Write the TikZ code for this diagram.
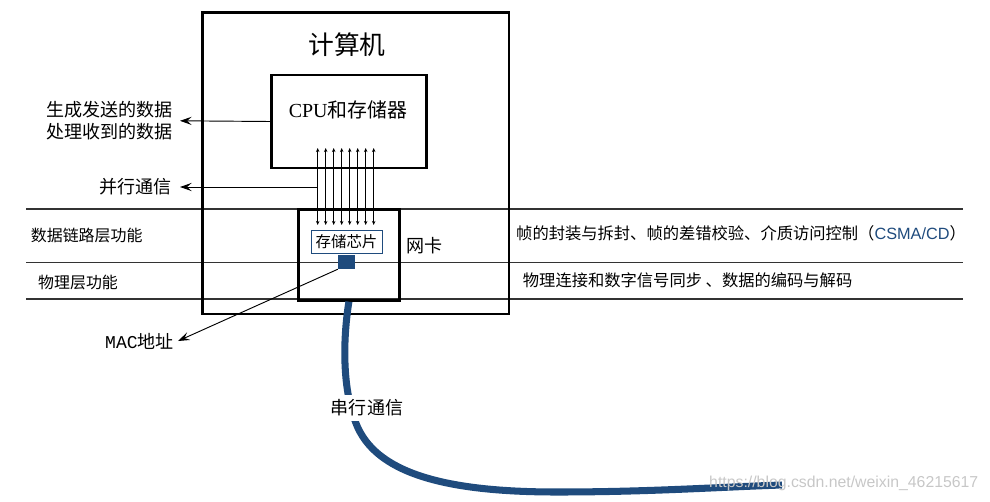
\documentclass[tikz,border=0pt]{standalone}
\usepackage{fontspec}
\setmainfont{Noto Sans CJK SC}
\newfontfamily\cpufont{Liberation Serif}
\newfontfamily\latfont{Liberation Sans}
\newfontfamily\macfont{Liberation Mono}
\usepackage{tikz}
\usetikzlibrary{positioning}
\usetikzlibrary{arrows.meta}

\definecolor{cableblue}{RGB}{31,75,125}

\tikzset{
    box/.style={draw, line width=2.4pt, inner sep=0pt},
    layerline/.style={draw=black!80, line width=1pt},
    bus/.style={line width=0.7pt, {Stealth[length=3.5pt,width=3pt]}-{Stealth[length=3.5pt,width=3pt]}},
    pointer/.style={line width=0.8pt, -{Stealth[length=10pt,width=7pt,inset=4pt]}},
    txt/.style={font=\fontsize{15.4}{18.5}\selectfont, inner sep=0pt},
    small/.style={font=\fontsize{13.6}{16}\selectfont, inner sep=0pt},
    cable/.style={draw=cableblue, line width=6pt},
}

\begin{document}
\begin{tikzpicture}[x=0.03cm, y=-0.03cm]
    \useasboundingbox (0,0) rectangle (990,501);

    % layer lines
    \coordinate (l1w) at (26,209);
    \coordinate (l1e) at (963,209);
    \coordinate (l2w) at (26,262.5);
    \coordinate (l2e) at (963,262.5);
    \coordinate (l3w) at (26,299);
    \coordinate (l3e) at (963,299);
    \draw[layerline] (l1w) -- (l1e);
    \draw[layerline] (l2w) -- (l2e);
    \draw[layerline] (l3w) -- (l3e);

    % computer
    \node[box, minimum width=9.195cm, minimum height=9.045cm] (pc) at (355.75,163.25) {};
    \node[font=\fontsize{22}{26}\selectfont, inner sep=0pt] (title) at (347,45) {计算机};

    \node[box, minimum width=4.65cm, minimum height=2.79cm] (cpu) at (349.2,121.5) {};
    \node[font=\fontsize{17}{20}\selectfont, inner sep=0pt] (cpuname) at (348,110) {{\cpufont CPU}和存储器};

    % network card
    \node[box, minimum width=3.036cm, minimum height=2.718cm] (nic) at (348.9,255) {};
    \node[draw=cableblue, line width=0.8pt, fill=white, minimum width=2.13cm, minimum height=0.69cm,
          inner sep=0pt, font=\fontsize{13.2}{15}\selectfont] (chip) at (346.5,241.5) {存储芯片};
    \node[fill=cableblue, minimum width=0.51cm, minimum height=0.42cm, inner sep=0pt] (port) at (346.5,262) {};
    \node[txt, anchor=west] (niclbl) at (406,246) {网卡};

    % parallel bus
    \foreach \i in {0,...,7} {
        \coordinate (top\i) at (317.7+8*\i,148);
        \coordinate (bot\i) at (317.7+8*\i,225);
        \draw[bus] (top\i) -- (bot\i);
    }

    % left labels
    \node[txt, align=right, anchor=east, inner xsep=0.21cm] (data) at (180,120.8) {生成发送的数据\\处理收到的数据};
    \draw[pointer] (cpu.west) -- (data.east);

    \coordinate (tap) at (317.7,187);
    \node[txt, anchor=east, inner xsep=0.24cm] (par) at (180,187) {并行通信};
    \draw[pointer] (tap) -- (par.east);

    \node[txt, anchor=east, inner xsep=0.12cm] (mac) at (178,341) {{\macfont MAC}地址};
    \draw[pointer] (port.south west) -- (mac.east);

    \node[small, anchor=west] (dlltag) at (30.7,235) {数据链路层功能};
    \node[small, anchor=west] (phytag) at (38,282.7) {物理层功能};

    % right labels
    \node[small, font=\fontsize{13.9}{16}\selectfont, anchor=west] (dll) at (516,233.3) {帧的封装与拆封、帧的差错校验、介质访问控制（{\latfont\color{cableblue}CSMA/CD}）};
    \node[small, font=\fontsize{13.9}{16}\selectfont, anchor=west] (phy) at (522.7,280) {物理连接和数字信号同步 、数据的编码与解码};

    % serial cable
    \coordinate (cableend) at (782,485);
    \draw[cable] (nic.south) .. controls (342,345) and (343,395) .. (358,428)
        .. controls (380,475) and (450,492) .. (557,492)
        .. controls (650,492) and (720,487) .. (cableend);
    \node[txt, fill=white, inner xsep=1pt, inner ysep=4pt] (serial) at (367,408) {串行通信};

    \node[font=\latfont\fontsize{13.5}{15}\selectfont, text=black!22, anchor=west, inner sep=0pt] (mark) at (709,483) {https://blog.csdn.net/weixin\_46215617};
\end{tikzpicture}
\end{document}
